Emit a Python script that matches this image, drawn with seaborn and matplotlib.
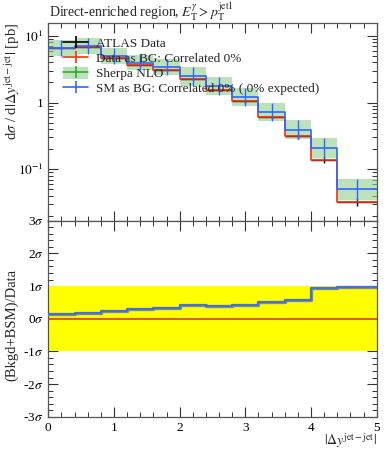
import numpy as np
import pandas as pd
import matplotlib
matplotlib.use("Agg")
import matplotlib.pyplot as plt
import seaborn as sns
from matplotlib.patches import Patch
from matplotlib.lines import Line2D
from matplotlib.ticker import FixedLocator, MultipleLocator, FixedFormatter, LogLocator, NullFormatter

# ---- data ----
edges = [0.0, 0.4, 0.8, 1.2, 1.6, 2.0, 2.4, 2.8, 3.2, 3.6, 4.0, 4.4, 5.0]
data_vals = [6.46, 6.77, 4.56, 3.66, 3.03, 2.25, 1.56, 1.04, 0.60, 0.31, 0.138, 0.0325]
data_rel_err = [0.03, 0.03, 0.03, 0.03, 0.03, 0.04, 0.04, 0.05, 0.06, 0.08, 0.10, 0.13]
sm_vals = [6.63, 7.00, 4.98, 3.93, 3.41, 2.46, 1.78, 1.20, 0.718, 0.393, 0.207, 0.050]
band_factor = [1.32, 1.32, 1.30, 1.30, 1.32, 1.37, 1.37, 1.37, 1.37, 1.39, 1.42, 1.42]
ratio_sigma = [0.153, 0.173, 0.235, 0.296, 0.316, 0.408, 0.378, 0.418, 0.50, 0.571, 0.949, 0.969]
sigma_ticks = [-3, -2, -1, 0, 1, 2, 3]
sigma_labels = ["-3$\\sigma$", "-2$\\sigma$", "-1$\\sigma$", "0$\\sigma$", "1$\\sigma$", "2$\\sigma$", "3$\\sigma$"]

sns.set_theme(style="ticks")
plt.rcParams["font.family"] = ["Liberation Serif", "DejaVu Serif"]
plt.rcParams["mathtext.fontset"] = "stix"
plt.rcParams["font.size"] = 9.5

edges_a = np.array(edges)
centers = 0.5 * (edges_a[:-1] + edges_a[1:])
halfw = 0.5 * np.diff(edges_a)
data_a = np.array(data_vals)
sm_a = np.array(sm_vals)
bf = np.array(band_factor)

def stepdf(vals):
    return pd.DataFrame({"x": edges, "y": list(vals) + [vals[-1]]})

fig = plt.figure(figsize=(3.89, 4.5), dpi=100)
L, R = 48.3 / 389, 376.7 / 389
ax = fig.add_axes([L, 1 - 220.7 / 450, R - L, (220.7 - 23) / 450])
axr = fig.add_axes([L, 1 - 416.7 / 450, R - L, (416.7 - 220.7) / 450], sharex=ax)

RED = "#EE3311"
BLUE = "#3366FF"
GREEN = "#33AA33"
BAND = "#8fd08f"

# top panel
ax.fill_between(edges, list(sm_a / bf) + [sm_a[-1] / bf[-1]], list(sm_a * bf) + [sm_a[-1] * bf[-1]],
                step="post", color=BAND, alpha=0.6, lw=0, zorder=1)
ax.errorbar(centers, data_a, xerr=halfw, yerr=data_a * np.array(data_rel_err),
            fmt="none", ecolor="black", elinewidth=1.0, zorder=2)
sns.lineplot(data=stepdf(data_a), x="x", y="y", ax=ax, drawstyle="steps-post",
             color=RED, lw=1.2, estimator=None, sort=False, zorder=3)
sns.lineplot(data=stepdf(sm_a), x="x", y="y", ax=ax, drawstyle="steps-post",
             color=BLUE, lw=1.2, estimator=None, sort=False, zorder=4)
ax.errorbar(centers, sm_a, yerr=[sm_a - sm_a / bf, sm_a * bf - sm_a],
            fmt="none", ecolor=BLUE, elinewidth=1.0, zorder=4)

ax.set_yscale("log")
ax.set_ylim(0.017, 15.5)
ax.set_xlim(0, 5)
ax.yaxis.set_major_locator(FixedLocator([0.1, 1, 10]))
ax.yaxis.set_major_formatter(FixedFormatter(["$10^{-1}$", "1", "$10^{1}$"]))
ax.yaxis.set_minor_locator(LogLocator(base=10, subs=np.arange(2, 10)))
ax.yaxis.set_minor_formatter(NullFormatter())
ax.set_ylabel("d$\\sigma$ / d$|\\Delta y^{\\mathrm{jet-jet}}|$ [pb]", fontsize=10.5, loc="top")
ax.set_xlabel("")

# ratio panel
axr.axhspan(-1, 1, color="#FFFF00", lw=0, zorder=1)
axr.axhline(0, color=RED, lw=1.2, zorder=3)
rdf = stepdf(ratio_sigma)
sns.lineplot(data=rdf, x="x", y="y", ax=axr, drawstyle="steps-post",
             color="#7f8f7f", lw=2.4, estimator=None, sort=False, zorder=4)
sns.lineplot(data=rdf, x="x", y="y", ax=axr, drawstyle="steps-post",
             color=BLUE, lw=1.1, estimator=None, sort=False, zorder=5)
axr.set_ylim(-3, 3)
axr.set_xlim(0, 5)
axr.yaxis.set_major_locator(FixedLocator(sigma_ticks))
axr.yaxis.set_major_formatter(FixedFormatter(sigma_labels))
axr.yaxis.set_minor_locator(MultipleLocator(0.2))
axr.set_ylabel("(Bkgd+BSM)/Data", fontsize=10.5)
axr.set_xlabel("")
axr.xaxis.set_major_locator(MultipleLocator(1))
axr.xaxis.set_minor_locator(MultipleLocator(0.2))

for a in (ax, axr):
    a.tick_params(which="both", direction="in", top=True, right=True, colors="#333333",
                  labelcolor="black", labelsize=9.5)
    a.tick_params(which="major", length=7, width=0.8)
    a.tick_params(which="minor", length=3.6, width=0.7)
    for s in a.spines.values():
        s.set_color("#555555")
        s.set_linewidth(0.9)
ax.tick_params(axis="x", labelbottom=False, labeltop=False)
axr.tick_params(axis="x", labeltop=False, labelbottom=True)
ax.yaxis.set_label_coords(-0.08, 1.0)
axr.yaxis.set_label_coords(-0.09, 0.47)

fig.text(R, 1 - 441 / 450, "$|\\Delta y^{\\mathrm{jet-jet}}|$", ha="right", va="center", fontsize=10)
fig.text(L + 0.002, 1 - 12 / 450,
         "Direct-enriched region, $E_{\\mathrm{T}}^{\\gamma} > p_{\\mathrm{T}}^{\\mathrm{jet1}}$",
         ha="left", va="center", fontsize=10)

# legend
def cross(c):
    return Line2D([], [], color=c, lw=1.2, marker="|", markersize=9, markeredgewidth=1.2)

h_sherpa = (Patch(facecolor=BAND, alpha=0.6, lw=0), cross(GREEN))
handles = [cross("black"), cross(RED), h_sherpa, cross(BLUE)]
labels = ["ATLAS Data", "Data as BG: Correlated 0%", "Sherpa NLO",
          "SM as BG: Correlated 0% ( 0% expected)"]
leg = ax.legend(handles, labels, loc="upper left", bbox_to_anchor=(63 / 389, 1 - 37 / 450),
                bbox_transform=fig.transFigure, frameon=False, borderpad=0, borderaxespad=0,
                handlelength=1.9, handletextpad=0.6, labelspacing=0.11, fontsize=9.5,
                handleheight=1.0, numpoints=1)
leg.set_zorder(10)

fig.savefig("out.png", dpi=100)
